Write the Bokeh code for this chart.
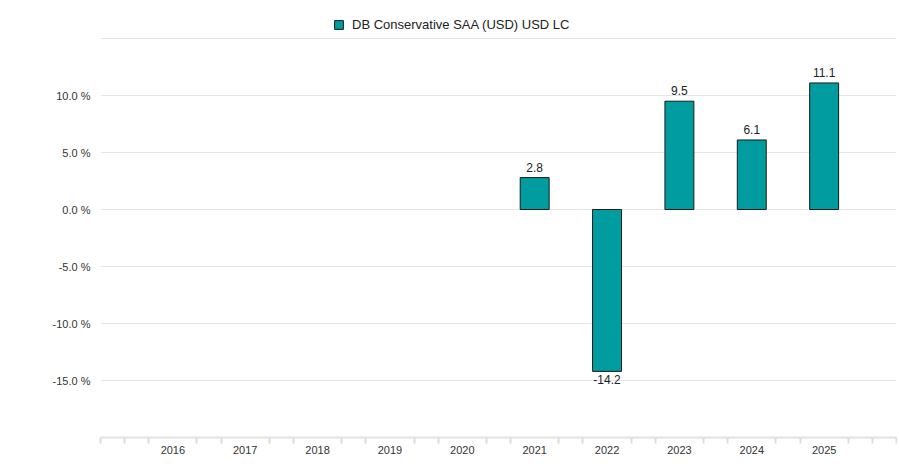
from bokeh.plotting import figure
from bokeh.models import (ColumnDataSource, Range1d, FixedTicker, LabelSet, Legend, LegendItem,
                          NumeralTickFormatter)
from bokeh.core.properties import value
from bokeh.embed import file_html
from bokeh.resources import INLINE

years = [2016, 2017, 2018, 2019, 2020, 2021, 2022, 2023, 2024, 2025]
returns = [None, None, None, None, None, 2.8, -14.2, 9.5, 6.1, 11.1]
series_name = "DB Conservative SAA (USD) USD LC"
y_ticks = [-15, -10, -5, 0, 5, 10, 15]

xs = [y for y, v in zip(years, returns) if v is not None]
vs = [v for v in returns if v is not None]
labels = [f"{v:.1f}" for v in vs]

pos = ColumnDataSource(dict(x=[x for x, v in zip(xs, vs) if v >= 0],
                            top=[v for v in vs if v >= 0],
                            lab=[l for l, v in zip(labels, vs) if v >= 0]))
neg = ColumnDataSource(dict(x=[x for x, v in zip(xs, vs) if v < 0],
                            top=[v for v in vs if v < 0],
                            lab=[l for l, v in zip(labels, vs) if v < 0]))
src = ColumnDataSource(dict(x=xs, top=vs))

W, H = 897, 459
BL, BR, BT, BB = 100, 1, 2, 22
# y = 15 sits 36px below the frame top; 35 units span 399px
y_lo, y_hi = -20, 15
y_top = y_hi + 36 * (y_hi - y_lo) / 399
p = figure(width=W, height=H, output_backend="svg", toolbar_location=None,
           x_range=Range1d(years[0] - 1, years[-1] + 1), y_range=Range1d(y_lo, y_top),
           min_border_left=BL, min_border_right=BR, min_border_top=BT, min_border_bottom=BB)
p.outline_line_color = None
p.background_fill_color = "white"
p.border_fill_color = "white"

r = p.vbar(x="x", top="top", bottom=0, width=0.4, source=src,
           fill_color="#009CA0", line_color="#1a1a1a", line_width=1)

font = "Liberation Sans"
for s, off, base in [(pos, 6, "bottom"), (neg, -4, "top")]:
    p.add_layout(LabelSet(x="x", y="top", text="lab", source=s, y_offset=off,
                          text_align="center", text_baseline=base, text_font=value(font),
                          text_font_size="12px", text_color="#222222"))

# x axis
minor = [years[0] - 1 + k / 3 for k in range(3 * (len(years) + 1) + 1)
         if not (k % 3 == 0 and 1 <= k // 3 <= len(years))]
p.xaxis.ticker = FixedTicker(ticks=years, minor_ticks=minor)
p.xaxis.major_tick_line_color = None
p.xaxis.minor_tick_line_color = "#dddddd"
p.xaxis.minor_tick_line_width = 2
p.xaxis.minor_tick_in = 0
p.xaxis.minor_tick_out = 6
p.xaxis.axis_line_color = "#e2e2e2"
p.xaxis.axis_line_width = 2
p.xaxis.major_label_text_font = font
p.xaxis.major_label_text_font_size = "11px"
p.xaxis.major_label_text_color = "#333333"
p.xaxis.major_label_standoff = 2
p.xgrid.grid_line_color = None

# y axis
p.yaxis.ticker = FixedTicker(ticks=y_ticks)
p.yaxis.formatter = NumeralTickFormatter(format="0.0")
p.yaxis.major_label_overrides = {t: ("" if t == y_ticks[-1] else f"{t:.1f} %") for t in y_ticks}
p.yaxis.axis_line_color = None
p.yaxis.major_tick_line_color = None
p.yaxis.minor_tick_line_color = None
p.yaxis.major_label_standoff = 4
p.yaxis.major_label_text_font = font
p.yaxis.major_label_text_font_size = "11px"
p.yaxis.major_label_text_color = "#333333"
p.ygrid.grid_line_color = "#e6e6e6"
p.ygrid.grid_line_width = 1

legend = Legend(items=[LegendItem(label=series_name, renderers=[r])],
                location=(233, 404), orientation="horizontal",
                glyph_width=11, glyph_height=11, label_standoff=8,
                label_text_font=font, label_text_font_size="13px", label_text_color="#222222",
                label_height=18, padding=4, margin=0, border_line_color=None,
                background_fill_alpha=0)
p.add_layout(legend, "center")

open("out.html", "w").write(file_html(p, INLINE))
